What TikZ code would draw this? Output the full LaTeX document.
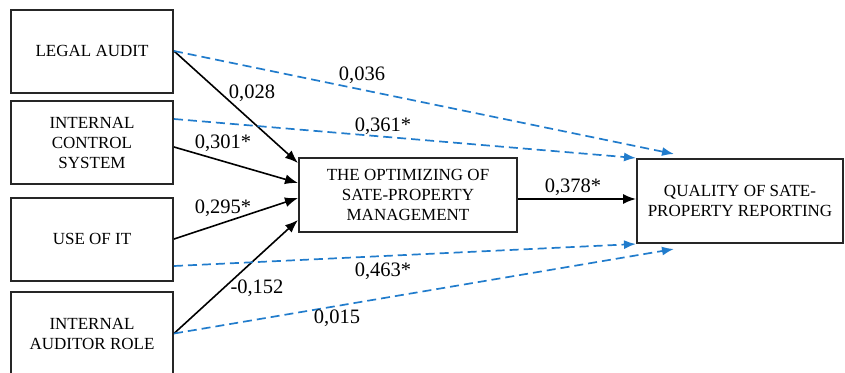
\documentclass[tikz,border=0pt]{standalone}
\usepackage{fontspec}
\setmainfont{Liberation Serif}
\usepackage{tikz}
\usetikzlibrary{arrows.meta,calc}
\definecolor{pathblue}{RGB}{33,124,204}

\begin{document}
\begin{tikzpicture}[x=1pt,y=-1pt,
            varbox/.style={draw=black!85, line width=2pt, inner sep=0pt,
                align=center, font=\fontsize{17}{20}\selectfont,
                minimum width=162pt, minimum height=83pt},
            coef/.style={inner sep=0pt, font=\fontsize{20.5}{24}\selectfont},
            direct/.style={line width=1.6pt, black,
                -{Latex[length=13pt,width=10pt]}},
            total/.style={line width=1.7pt, pathblue, dash pattern=on 9pt off 5pt,
                -{Latex[length=12pt,width=9pt]}}]
            \useasboundingbox (0,0) rectangle (845,372);

            \node[varbox] (la)  at (92,51)    {LEGAL AUDIT};
            \node[varbox] (ics) at (92,142.5) {INTERNAL\\CONTROL\\SYSTEM};
            \node[varbox] (use) at (92,239)   {USE OF IT};
            \node[varbox] (iar) at (92,333.5) {INTERNAL\\AUDITOR ROLE};
            \node[varbox, minimum width=218pt, minimum height=74pt] (mg) at (408,195)
                {THE OPTIMIZING OF\\SATE-PROPERTY\\MANAGEMENT};
            \node[varbox, minimum width=206pt, minimum height=84pt] (q) at (740,201)
                {QUALITY OF SATE-\\PROPERTY REPORTING};

            % paths through the mediator
            \draw[direct] (la.east) -- ($(mg.west)+(0,-32)$);
            \draw[direct] ($(ics.east)+(0,4.5)$) -- ($(mg.west)+(0,-12)$);
            \draw[direct] (use.east) -- ($(mg.west)+(0,3)$);
            \draw[direct] (iar.east) -- ($(mg.west)+(0,25)$);
            \draw[direct] ($(mg.east)+(0,4)$) -- ($(q.west)+(0,-2)$);

            % direct paths to reporting
            \draw[total] (la.east) -- ($(q.north west)+(38,-4)$);
            \draw[total] ($(ics.east)+(0,-23.5)$) -- (q.north west);
            \draw[total] ($(use.east)+(0,27)$) -- (q.south west);
            \draw[total] (iar.east) -- ($(q.south west)+(38,5)$);

            \node[coef] (c028) at (252,93)  {0,028};
            \node[coef] (c301) at (223,143) {0,301*};
            \node[coef] (c295) at (223,208) {0,295*};
            \node[coef] (c152) at (257,288) {-0,152};
            \node[coef] (c036) at (362,75)  {0,036};
            \node[coef] (c361) at (383,126) {0,361*};
            \node[coef] (c378) at (573,187) {0,378*};
            \node[coef] (c463) at (383,271) {0,463*};
            \node[coef] (c015) at (337,318) {0,015};
\end{tikzpicture}
\end{document}
